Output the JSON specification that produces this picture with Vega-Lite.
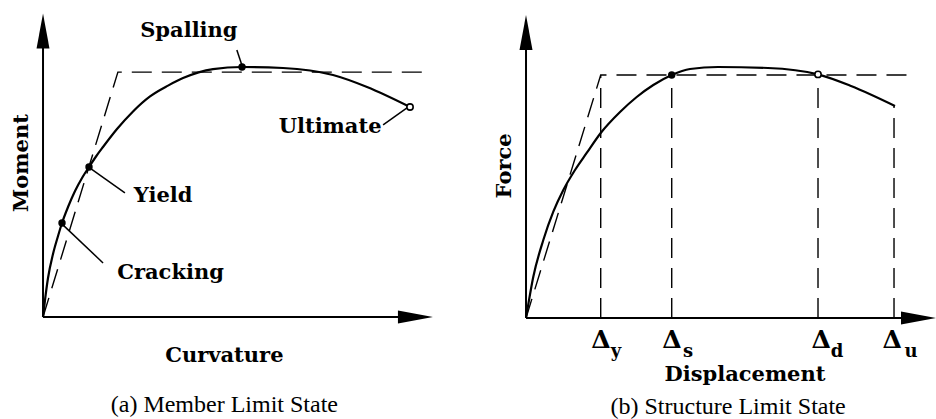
{
  "$schema": "https://vega.github.io/schema/vega-lite/v6.json",
  "padding": 0,
  "spacing": 0,
  "background": "white",
  "config": {"view": {"stroke": null}},
  "datasets": {
    "leftCurve": [
      {"x": 0, "y": 0}, {"x": 0.51, "y": 5.63}, {"x": 1.28, "y": 12.91}, {"x": 2.56, "y": 20.86},
      {"x": 3.85, "y": 26.82}, {"x": 4.87, "y": 31.13}, {"x": 6.41, "y": 36.42}, {"x": 8.21, "y": 41.72},
      {"x": 10.0, "y": 46.03}, {"x": 11.79, "y": 49.67}, {"x": 13.59, "y": 53.15}, {"x": 15.38, "y": 56.29},
      {"x": 18.97, "y": 62.25}, {"x": 23.08, "y": 68.08}, {"x": 27.44, "y": 73.05}, {"x": 32.05, "y": 76.62},
      {"x": 35.9, "y": 79.11}, {"x": 43.59, "y": 82.09}, {"x": 51.03, "y": 82.78}, {"x": 61.54, "y": 82.45},
      {"x": 74.36, "y": 80.13}, {"x": 83.08, "y": 76.16}, {"x": 94.1, "y": 69.54}
    ],
    "leftBilinear": [{"x": 0, "y": 0}, {"x": 19.2, "y": 81.1}, {"x": 97.4, "y": 81.1}],
    "leftAxes": [{"x": 0, "y": 0, "x2": 96, "y2": 0}, {"x": 0, "y": 0, "x2": 0, "y2": 96}],
    "leftArrowUp": [{"x": 0, "y": 94.7}],
    "leftArrowRight": [{"x": 95.5, "y": 0}],
    "leftLeaders": [
      {"x": 49.7, "y": 88.4, "x2": 51.0, "y2": 83.4},
      {"x": 12.05, "y": 49.3, "x2": 21.0, "y2": 41.1},
      {"x": 5.1, "y": 30.5, "x2": 15.4, "y2": 17.9},
      {"x": 87.2, "y": 63.6, "x2": 93.6, "y2": 69.5}
    ],
    "leftFilled": [{"x": 4.87, "y": 31.13}, {"x": 11.79, "y": 49.67}, {"x": 51.03, "y": 82.78}],
    "leftOpen": [{"x": 94.1, "y": 69.54}],
    "leftLabels": [
      {"x": 37.4, "y": 94.7, "label": "Spalling"},
      {"x": 30.8, "y": 40.1, "label": "Yield"},
      {"x": 32.7, "y": 14.6, "label": "Cracking"},
      {"x": 73.6, "y": 62.9, "label": "Ultimate"},
      {"x": 46.5, "y": -12.9, "label": "Curvature"}
    ],
    "leftYTitle": [{"x": -5.4, "y": 51.0, "label": "Moment"}],
    "leftCaption": [{"x": 46.5, "y": -29.1, "label": "(a) Member Limit State"}],
    "rightCurve": [
      {"x": 0, "y": 0}, {"x": 1.78, "y": 13.63}, {"x": 4.22, "y": 25.74}, {"x": 6.66, "y": 35.08},
      {"x": 9.1, "y": 42.24}, {"x": 11.95, "y": 48.84}, {"x": 14.8, "y": 54.46}, {"x": 18.22, "y": 61.06},
      {"x": 22.93, "y": 67.99}, {"x": 27.0, "y": 72.94}, {"x": 31.05, "y": 76.9}, {"x": 35.54, "y": 80.2},
      {"x": 40.0, "y": 82.18}, {"x": 46.83, "y": 82.84}, {"x": 59.02, "y": 82.51}, {"x": 71.22, "y": 80.4},
      {"x": 79.27, "y": 76.57}, {"x": 90.0, "y": 69.97}
    ],
    "rightBilinear": [{"x": 0, "y": 0}, {"x": 18.22, "y": 80.2}, {"x": 93.9, "y": 80.2}],
    "rightAxes": [{"x": 0, "y": 0, "x2": 97, "y2": 0}, {"x": 0, "y": 0, "x2": 0, "y2": 95}],
    "rightArrowUp": [{"x": 0, "y": 94.2}],
    "rightArrowRight": [{"x": 95.73, "y": 0}],
    "rightVerticals": [
      {"x": 18.22, "y": 0, "x2": 18.22, "y2": 80.2},
      {"x": 35.54, "y": 0, "x2": 35.54, "y2": 80.2},
      {"x": 71.22, "y": 0, "x2": 71.22, "y2": 80.4},
      {"x": 89.76, "y": 0, "x2": 89.76, "y2": 70.0}
    ],
    "rightFilled": [{"x": 35.54, "y": 80.2}],
    "rightOpen": [{"x": 71.22, "y": 80.4}],
    "rightDeltas": [
      {"x": 18.3, "y": -7.26, "label": "Δ"},
      {"x": 35.6, "y": -7.26, "label": "Δ"},
      {"x": 72.0, "y": -7.26, "label": "Δ"},
      {"x": 89.3, "y": -7.26, "label": "Δ"}
    ],
    "rightSubs": [
      {"x": 21.95, "y": -11.2, "label": "y"},
      {"x": 39.5, "y": -11.2, "label": "s"},
      {"x": 75.85, "y": -11.2, "label": "d"},
      {"x": 93.9, "y": -11.2, "label": "u"}
    ],
    "rightLabels": [{"x": 53.4, "y": -18.8, "label": "Displacement"}],
    "rightYTitle": [{"x": -5.12, "y": 50.2, "label": "Force"}],
    "rightCaption": [{"x": 49.3, "y": -29.4, "label": "(b) Structure Limit State"}]
  },
  "hconcat": [
    {
      "width": 468,
      "height": 419,
      "encoding": {
        "x": {"field": "x", "type": "quantitative", "axis": null, "scale": {"domain": [-11.03, 108.97], "nice": false, "zero": false}},
        "y": {"field": "y", "type": "quantitative", "axis": null, "scale": {"domain": [-33.77, 104.97], "nice": false, "zero": false}}
      },
      "layer": [
        {"data": {"name": "leftBilinear"}, "mark": {"type": "line", "color": "black", "strokeWidth": 1.4, "strokeDash": [20, 10]}},
        {"data": {"name": "leftAxes"}, "mark": {"type": "rule", "color": "black", "strokeWidth": 2}, "encoding": {"x2": {"field": "x2"}, "y2": {"field": "y2"}}},
        {"data": {"name": "leftArrowUp"}, "mark": {"type": "point", "shape": "M0,-1L0.37,1L-0.37,1Z", "filled": true, "color": "black", "size": 1225, "opacity": 1}},
        {"data": {"name": "leftArrowRight"}, "mark": {"type": "point", "shape": "M1,0L-1,-0.37L-1,0.37Z", "filled": true, "color": "black", "size": 1225, "opacity": 1}},
        {"data": {"name": "leftCurve"}, "mark": {"type": "line", "color": "black", "strokeWidth": 2.2, "interpolate": "monotone"}},
        {"data": {"name": "leftLeaders"}, "mark": {"type": "rule", "color": "black", "strokeWidth": 1.5}, "encoding": {"x2": {"field": "x2"}, "y2": {"field": "y2"}}},
        {"data": {"name": "leftFilled"}, "mark": {"type": "point", "shape": "circle", "filled": true, "color": "black", "size": 55, "opacity": 1}},
        {"data": {"name": "leftOpen"}, "mark": {"type": "point", "shape": "circle", "filled": true, "fill": "white", "stroke": "black", "strokeWidth": 1.6, "size": 40, "opacity": 1}},
        {"data": {"name": "leftLabels"}, "mark": {"type": "text", "font": "DejaVu Serif", "fontWeight": "bold", "fontSize": 21, "align": "center", "baseline": "middle", "color": "black"}, "encoding": {"text": {"field": "label"}}},
        {"data": {"name": "leftYTitle"}, "mark": {"type": "text", "font": "DejaVu Serif", "fontWeight": "bold", "fontSize": 21, "align": "center", "baseline": "middle", "angle": 270, "color": "black"}, "encoding": {"text": {"field": "label"}}},
        {"data": {"name": "leftCaption"}, "mark": {"type": "text", "font": "Liberation Serif", "fontSize": 24, "align": "center", "baseline": "middle", "color": "black"}, "encoding": {"text": {"field": "label"}}}
      ]
    },
    {
      "width": 468,
      "height": 419,
      "encoding": {
        "x": {"field": "x", "type": "quantitative", "axis": null, "scale": {"domain": [-14.15, 100], "nice": false, "zero": false}},
        "y": {"field": "y", "type": "quantitative", "axis": null, "scale": {"domain": [-33.33, 104.95], "nice": false, "zero": false}}
      },
      "layer": [
        {"data": {"name": "rightBilinear"}, "mark": {"type": "line", "color": "black", "strokeWidth": 1.4, "strokeDash": [20, 10]}},
        {"data": {"name": "rightVerticals"}, "mark": {"type": "rule", "color": "black", "strokeWidth": 1.4, "strokeDash": [20, 10]}, "encoding": {"x2": {"field": "x2"}, "y2": {"field": "y2"}}},
        {"data": {"name": "rightAxes"}, "mark": {"type": "rule", "color": "black", "strokeWidth": 2}, "encoding": {"x2": {"field": "x2"}, "y2": {"field": "y2"}}},
        {"data": {"name": "rightArrowUp"}, "mark": {"type": "point", "shape": "M0,-1L0.37,1L-0.37,1Z", "filled": true, "color": "black", "size": 1225, "opacity": 1}},
        {"data": {"name": "rightArrowRight"}, "mark": {"type": "point", "shape": "M1,0L-1,-0.37L-1,0.37Z", "filled": true, "color": "black", "size": 1225, "opacity": 1}},
        {"data": {"name": "rightCurve"}, "mark": {"type": "line", "color": "black", "strokeWidth": 2.2, "interpolate": "monotone"}},
        {"data": {"name": "rightFilled"}, "mark": {"type": "point", "shape": "circle", "filled": true, "color": "black", "size": 55, "opacity": 1}},
        {"data": {"name": "rightOpen"}, "mark": {"type": "point", "shape": "circle", "filled": true, "fill": "white", "stroke": "black", "strokeWidth": 1.6, "size": 40, "opacity": 1}},
        {"data": {"name": "rightDeltas"}, "mark": {"type": "text", "font": "DejaVu Serif", "fontWeight": "bold", "fontSize": 25, "align": "center", "baseline": "middle", "color": "black"}, "encoding": {"text": {"field": "label"}}},
        {"data": {"name": "rightSubs"}, "mark": {"type": "text", "font": "DejaVu Serif", "fontWeight": "bold", "fontSize": 18, "align": "center", "baseline": "middle", "color": "black"}, "encoding": {"text": {"field": "label"}}},
        {"data": {"name": "rightLabels"}, "mark": {"type": "text", "font": "DejaVu Serif", "fontWeight": "bold", "fontSize": 21, "align": "center", "baseline": "middle", "color": "black"}, "encoding": {"text": {"field": "label"}}},
        {"data": {"name": "rightYTitle"}, "mark": {"type": "text", "font": "DejaVu Serif", "fontWeight": "bold", "fontSize": 21, "align": "center", "baseline": "middle", "angle": 270, "color": "black"}, "encoding": {"text": {"field": "label"}}},
        {"data": {"name": "rightCaption"}, "mark": {"type": "text", "font": "Liberation Serif", "fontSize": 24, "align": "center", "baseline": "middle", "color": "black"}, "encoding": {"text": {"field": "label"}}}
      ]
    }
  ]
}
